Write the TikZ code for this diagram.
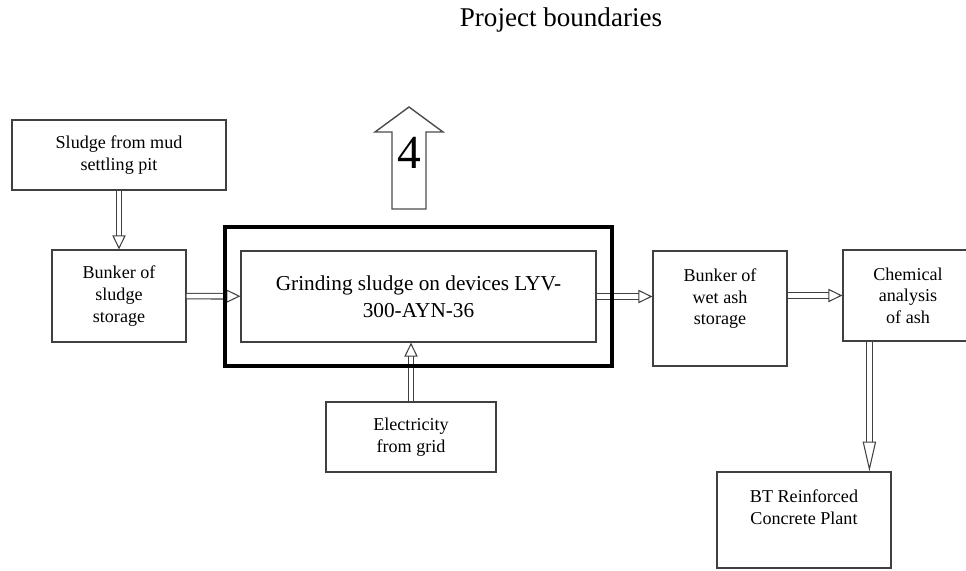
\documentclass[tikz,border=0pt]{standalone}
\usepackage{fontspec}
\setmainfont{Liberation Serif}
\usetikzlibrary{arrows.meta,positioning,fit}

\tikzset{
  block/.style={draw=black!75, line width=0.7pt, inner sep=0pt, align=center,
    font=\fontsize{10.3}{12.3}\selectfont},
  blocktext/.style={inner sep=0pt, align=center, font=\fontsize{10.3}{12.3}\selectfont},
  flow/.style={draw=black!75, line width=0.6pt, double=white, double distance=2.6pt,
    -{Triangle[open, length=8pt, width=7.6pt]}},
  boundary/.style={draw=black, line width=2.3pt, inner xsep=0.31cm, inner ysep=0.47cm},
}

\begin{document}
\begin{tikzpicture}
  \useasboundingbox (0,0) rectangle (19.32,-11.4);
  \node (title) at (11.22,-0.4) {\fontsize{15.4}{18}\selectfont Project boundaries};

  % process chain
  \node[block, minimum width=4.28cm, minimum height=1.4cm] (mud) at (2.38,-3.1) {Sludge from mud\\settling pit};
  \node[block, minimum width=2.68cm, minimum height=1.84cm] (store) at (2.38,-5.92) {Bunker of\\sludge\\storage};
  \node[block, minimum width=7.1cm, minimum height=1.82cm, font=\fontsize{12.1}{15.5}\selectfont] (grind) at (8.37,-5.93) {Grinding sludge on devices LYV-\\300-AYN-36};
  \node[block, minimum width=2.68cm, minimum height=2.3cm] (wetash) at (14.4,-6.17) {};
  \node[blocktext, below=0.36 of wetash.north] (wetashtext) {Bunker of\\wet ash\\storage};
  \node[block, minimum width=2.6cm, minimum height=1.82cm] (chem) at (18.16,-5.91) {Chemical\\analysis\\of ash};
  \node[block, minimum width=3.48cm, minimum height=1.92cm] (plant) at (16.08,-10.4) {};
  \node[blocktext, below=0.37 of plant.north] (planttext) {BT Reinforced\\Concrete Plant};
  \node[block, minimum width=3.4cm, minimum height=1.4cm] (grid) at (8.22,-8.74) {Electricity\\from grid};

  % emissions arrow
  \draw[draw=black!70, line width=0.8pt] (7.84,-4.18) -- (7.84,-2.64) -- (7.5,-2.64) -- (8.18,-2.14)
    -- (8.86,-2.64) -- (8.52,-2.64) -- (8.52,-4.18) -- cycle;
  \node (four) at (8.18,-3.06) {\fontsize{27}{30}\selectfont 4};

  \draw[flow] (mud) -- (store);
  \draw[flow] (store) -- (grind);
  \draw[flow] (grind.east) -- (grind.east -| wetash.west);
  \draw[flow] (chem.west -| wetash.east) -- (chem.west);
  \draw[flow, -{Triangle[open, length=17pt, width=7.6pt]}] ([xshift=0.54cm]chem.south west) -- ([xshift=0.54cm]chem.south west |- plant.north);
  \draw[flow] (grid.north) -- (grid.north |- grind.south);

  \node[boundary, fit=(grind)] (project) {};
\end{tikzpicture}
\end{document}
